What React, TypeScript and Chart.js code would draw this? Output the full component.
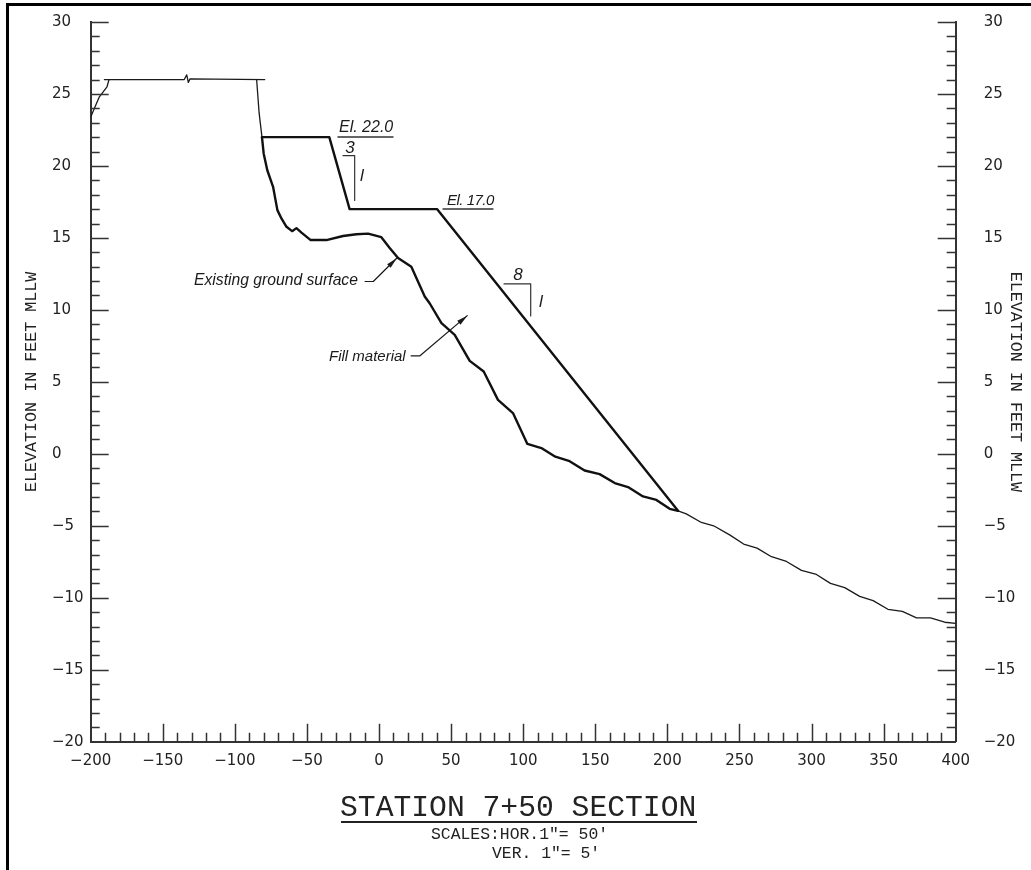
import React, { useEffect, useRef } from "react";
import { Chart, registerables } from "chart.js";

Chart.register(...registerables);

// Surface lines: station (x) and elevation (y)
const existingX = [-81.2, -80, -77.5, -73.5, -70.5, -67.7, -64.2, -60.3, -57.3, -53.8, -47.4, -36.5, -25, -15.7, -7.6, 1.6, 7.4, 13.2, 22.4, 31.7, 35.1, 43.3, 52.5, 62.9, 72.6, 82.5, 92.9, 102.9, 112.6, 122.3, 132.2, 142.6, 153, 163.5, 172.7, 183.1, 192.4, 201.6, 207.4];
const existingY = [22, 20.85, 19.7, 18.55, 16.93, 16.35, 15.77, 15.47, 15.68, 15.37, 14.85, 14.85, 15.13, 15.25, 15.3, 15.05, 14.3, 13.6, 13, 10.93, 10.46, 9.08, 8.26, 6.46, 5.72, 3.75, 2.83, 0.69, 0.4, -0.2, -0.51, -1.16, -1.41, -2.03, -2.31, -2.96, -3.2, -3.82, -3.96];
const designX = [-81.2, -34.5, -20.4, 40.2, 207.4];
const designY = [22, 22, 17, 17, -3.96];
const seabedX = [207.4, 213.1, 223.6, 232.1, 243.2, 252.9, 262.2, 272.2, 282.6, 293, 303.4, 313.1, 323, 333.4, 342.7, 353, 363, 372.8, 382.5, 392.4, 400];
const seabedY = [-3.96, -4.17, -4.77, -5, -5.63, -6.27, -6.55, -7.15, -7.48, -8.1, -8.38, -9, -9.3, -9.9, -10.2, -10.8, -10.95, -11.4, -11.4, -11.7, -11.78];
const crestX = [-190.5, -135.1, -133.4, -132.3, -131.1, -79.3];
const crestY = [26, 26, 26.33, 25.8, 26.05, 26];
const landSlopeX = [-200, -194, -188.7, -187.3];
const landSlopeY = [23.4, 24.8, 25.5, 26];
const bankX = [-84.9, -83.2, -81.2];
const bankY = [26, 23.7, 22];

// Drafting marks, also in station / elevation
const slope3X = [-25, -16.9, -16.9];
const slope3Y = [20.72, 20.72, 17.6];
const slope8X = [86.7, 105.2, 105.2];
const slope8Y = [11.8, 11.8, 9.58];
const underline22X = [-28.5, 9.7];
const underline22Y = [22.01, 22.01];
const underline17X = [44.4, 79];
const underline17Y = [17.01, 17.01];
const leaderGroundX = [-9.7, -4, 12.25];
const leaderGroundY = [11.97, 11.97, 13.59];
const leaderFillX = [22.2, 28.4, 61.2];
const leaderFillY = [6.81, 6.81, 9.6];

const titleText = "STATION 7+50 SECTION";
const scaleLine1 = "SCALES:HOR.1\"= 50'";
const scaleLine2 = "VER. 1\"= 5'";
const axisTitle = "ELEVATION IN FEET MLLW";

const pairs = (xs: number[], ys: number[]) => xs.map((x, i) => ({ x, y: ys[i] }));
const line = (xs: number[], ys: number[], w: number, color = "#1a1a1a") => ({
  data: pairs(xs, ys),
  borderColor: color,
  borderWidth: w,
  pointRadius: 0,
  fill: false,
  tension: 0,
  borderJoinStyle: "round" as const,
  borderCapStyle: "round" as const,
});

const fmt = (v: number) => (v < 0 ? "\u2212" + Math.abs(v) : String(v));
const MONO = "'Liberation Mono'";
const AXIS_COLOR = "#333333";

const draftingPlugin = {
  id: "drafting",
  afterDatasetsDraw(chart: any) {
    const { ctx, scales } = chart;
    const { x, y, y2 } = scales;
    const bottom = y.getPixelForValue(-20);
    ctx.save();
    ctx.strokeStyle = AXIS_COLOR;
    ctx.lineWidth = 1.5;
    ctx.beginPath();
    x.ticks.forEach((t: any) => {
      if (t.value === -200 || t.value === 400) return;
      const p = Math.round(x.getPixelForValue(t.value)) + 0.5;
      ctx.moveTo(p, bottom);
      ctx.lineTo(p, bottom - (t.value % 50 === 0 ? 18 : 9));
    });
    y.ticks.forEach((t: any) => {
      const p = Math.round(y.getPixelForValue(t.value)) + 0.5;
      const len = t.value % 5 === 0 ? 18 : 9;
      if (t.value === -20) return;
      ctx.moveTo(x.left, p);
      ctx.lineTo(x.left + len, p);
    });
    y2.ticks.forEach((t: any) => {
      const p = Math.round(y2.getPixelForValue(t.value)) + 0.5;
      const len = t.value % 5 === 0 ? 18 : 9;
      if (t.value === -20) return;
      ctx.moveTo(x.right, p);
      ctx.lineTo(x.right - len, p);
    });
    ctx.stroke();

    // arrow heads at the ends of the leaders
    const arrow = (xs: number[], ys: number[]) => {
      const n = xs.length - 1;
      const tx = x.getPixelForValue(xs[n]);
      const ty = y.getPixelForValue(ys[n]);
      const a = Math.atan2(ty - y.getPixelForValue(ys[n - 1]), tx - x.getPixelForValue(xs[n - 1]));
      ctx.fillStyle = "#1a1a1a";
      ctx.beginPath();
      ctx.moveTo(tx, ty);
      ctx.lineTo(tx - 11 * Math.cos(a) + 2.5 * Math.sin(a), ty - 11 * Math.sin(a) - 2.5 * Math.cos(a));
      ctx.lineTo(tx - 11 * Math.cos(a) - 2.5 * Math.sin(a), ty - 11 * Math.sin(a) + 2.5 * Math.cos(a));
      ctx.closePath();
      ctx.fill();
    };
    arrow(leaderGroundX, leaderGroundY);
    arrow(leaderFillX, leaderFillY);

    // italic notes
    ctx.fillStyle = "#1a1a1a";
    ctx.textBaseline = "middle";
    ctx.textAlign = "left";
    ctx.font = "italic 15.7px 'Liberation Sans'";
    ctx.fillText("Existing ground surface", 194, 281);
    ctx.font = "italic 15px 'Liberation Sans'";
    ctx.fillText("Fill material", 329, 357);
    ctx.font = "italic 16px 'Liberation Sans'";
    ctx.fillText("El. 22.0", 339, 128);
    ctx.font = "italic 15px 'Liberation Sans'";
    ctx.letterSpacing = "-0.5px";
    ctx.fillText("El. 17.0", 447, 201);
    ctx.letterSpacing = "0px";
    ctx.font = "italic 17px 'Liberation Sans'";
    ctx.textAlign = "center";
    ctx.fillText("3", 350, 148);
    ctx.fillText("8", 518, 275);
    ctx.fillText("l", 362, 176);
    ctx.fillText("l", 541, 302);

    // section title block
    ctx.textAlign = "left";
    ctx.fillStyle = "#222222";
    ctx.font = `29.7px ${MONO}`;
    ctx.fillText(titleText, 340, 808);
    ctx.fillRect(341, 821, 356, 2);
    ctx.font = `16.4px ${MONO}`;
    ctx.fillText(scaleLine1, 431, 835);
    ctx.fillText(scaleLine2, 492, 854);
    ctx.restore();
  },
};

export default function App() {
  const ref = useRef<HTMLCanvasElement>(null);
  useEffect(() => {
    if (!ref.current) return;
    const tickFont = { family: "'DejaVu Sans'", size: 15 };
    const yTicks = {
      stepSize: 1,
      autoSkip: false,
      color: "#222222",
      font: tickFont,
      callback: (v: any) => (v % 5 === 0 ? fmt(v) : ""),
    };
    const chart = new Chart(ref.current, {
      type: "line",
      data: {
        datasets: [
          line(existingX, existingY, 2.4, "#111111"),
          line(designX, designY, 2.4, "#111111"),
          line(seabedX, seabedY, 1.3),
          line(crestX, crestY, 1.3),
          line(landSlopeX, landSlopeY, 1.3),
          line(bankX, bankY, 1.3),
          line(slope3X, slope3Y, 1.2, "#333333"),
          line(slope8X, slope8Y, 1.2, "#333333"),
          line(underline22X, underline22Y, 1.4, "#333333"),
          line(underline17X, underline17Y, 1.4, "#333333"),
          line(leaderGroundX, leaderGroundY, 1.2),
          line(leaderFillX, leaderFillY, 1.2),
        ] as any,
      },
      plugins: [draftingPlugin],
      options: {
        responsive: false,
        animation: false,
        layout: { padding: { left: 52, top: 22, right: 0, bottom: 0 } },
        plugins: { legend: { display: false }, tooltip: { enabled: false } },
        scales: {
          x: {
            type: "linear",
            min: -200,
            max: 400,
            grid: { display: false },
            border: { display: true, width: 2, color: AXIS_COLOR },
            ticks: {
              stepSize: 10,
              autoSkip: false,
              maxRotation: 0,
              padding: 2,
              color: "#222222",
              font: tickFont,
              callback: (v: any) => (v % 50 === 0 ? fmt(v) : ""),
            },
            afterFit: (s: any) => {
              s.height = 128.3;
            },
          },
          y: {
            type: "linear",
            position: "left",
            min: -20,
            max: 30,
            grid: { display: false },
            border: { display: true, width: 2, color: AXIS_COLOR },
            ticks: { ...yTicks, crossAlign: "far" },
            title: {
              display: true,
              text: axisTitle,
              color: "#222222",
              font: { family: MONO, size: 16.7 },
              padding: { top: -30, bottom: 0 },
            },
            afterFit: (s: any) => {
              s.width = 38.7;
              s.paddingTop = 0;
              s.paddingBottom = 0;
            },
          },
          y2: {
            type: "linear",
            position: "right",
            min: -20,
            max: 30,
            grid: { display: false },
            border: { display: true, width: 2, color: AXIS_COLOR },
            ticks: { ...yTicks, padding: 20 },
            title: {
              display: true,
              text: axisTitle,
              color: "#222222",
              font: { family: MONO, size: 16.7 },
              padding: { top: 6, bottom: 0 },
            },
            afterFit: (s: any) => {
              s.width = 75.3;
              s.paddingTop = 0;
              s.paddingBottom = 0;
            },
          },
        },
      } as any,
    });
    return () => chart.destroy();
  }, []);
  return (
    <div style={{ position: "fixed", left: 0, top: 0, width: 1031, height: 870, background: "#fff", overflow: "hidden" }}>
      <canvas ref={ref} width={1031} height={870} style={{ position: "absolute", left: 0, top: 0, width: 1031, height: 870, filter: "blur(0.35px)" }} />
      <div
        style={{
          position: "absolute",
          left: 6,
          top: 3,
          right: 0,
          bottom: 0,
          borderLeft: "3px solid #000",
          borderTop: "3px solid #000",
          pointerEvents: "none",
        }}
      />
    </div>
  );
}
